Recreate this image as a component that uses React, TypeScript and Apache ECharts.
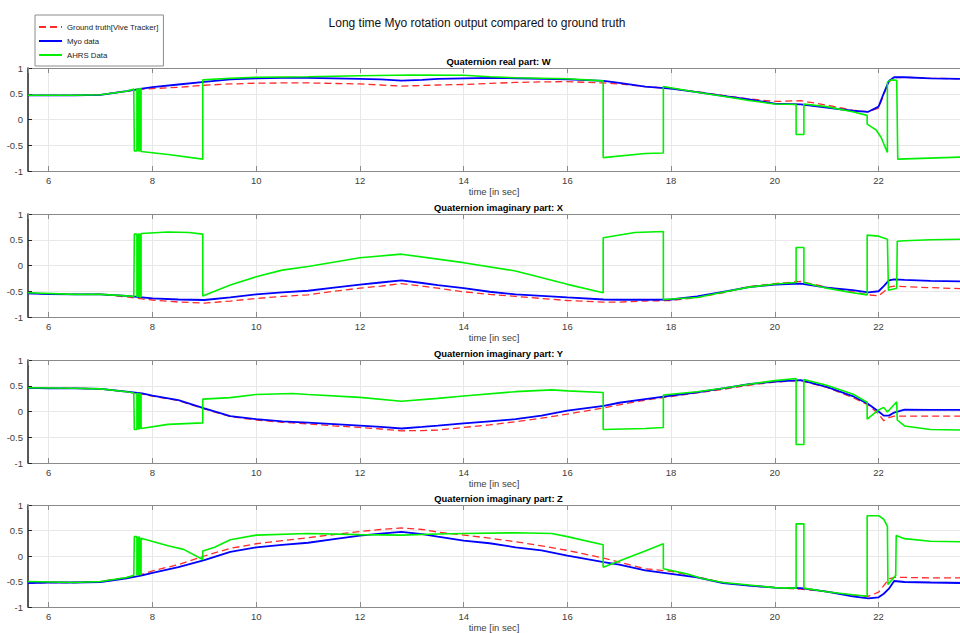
import React, { useEffect, useRef } from 'react';
import * as echarts from 'echarts';

// ---- data ----
const mainTitle = 'Long time Myo rotation output compared to ground truth';
const subTitles = [
  'Quaternion real part: W',
  'Quaternion imaginary part: X',
  'Quaternion imaginary part: Y',
  'Quaternion imaginary part: Z',
];
const xName = 'time [in sec]';
const seriesNames = ['Ground truth[Vive Tracker]', 'Myo data', 'AHRS Data'];

const T = [5.6, 6, 6.5, 7, 7.5, 7.8, 8, 8.5, 9, 9.5, 10, 10.5, 11, 11.5, 12, 12.4, 12.8, 13.2, 13.5, 14, 14.5, 15, 15.5, 16, 16.7, 17, 17.5, 18, 18.5, 19, 19.5, 20, 20.5, 21, 21.5, 21.8, 22, 22.1, 22.2, 22.3, 22.5, 23, 23.6];

const truthW = [0.47, 0.47, 0.47, 0.48, 0.55, 0.59, 0.6, 0.625, 0.665, 0.69, 0.705, 0.71, 0.71, 0.7, 0.69, 0.67, 0.65, 0.66, 0.67, 0.68, 0.7, 0.72, 0.73, 0.735, 0.71, 0.69, 0.64, 0.6, 0.54, 0.47, 0.4, 0.35, 0.365, 0.28, 0.18, 0.15, 0.22, 0.48, 0.73, 0.81, 0.82, 0.8, 0.79];
const myoW = [0.47, 0.47, 0.47, 0.48, 0.55, 0.6, 0.63, 0.68, 0.73, 0.78, 0.8, 0.81, 0.81, 0.8, 0.79, 0.78, 0.755, 0.77, 0.79, 0.8, 0.81, 0.8, 0.79, 0.78, 0.75, 0.71, 0.64, 0.6, 0.53, 0.46, 0.39, 0.31, 0.295, 0.23, 0.17, 0.15, 0.25, 0.51, 0.75, 0.82, 0.82, 0.8, 0.79];

const truthX = [-0.54, -0.555, -0.56, -0.56, -0.61, -0.65, -0.67, -0.71, -0.73, -0.69, -0.64, -0.6, -0.57, -0.5, -0.44, -0.4, -0.35, -0.4, -0.44, -0.51, -0.56, -0.6, -0.64, -0.68, -0.71, -0.71, -0.69, -0.68, -0.62, -0.53, -0.41, -0.35, -0.31, -0.42, -0.51, -0.57, -0.59, -0.51, -0.42, -0.4, -0.41, -0.43, -0.45];
const myoX = [-0.54, -0.555, -0.56, -0.56, -0.59, -0.62, -0.64, -0.66, -0.67, -0.62, -0.56, -0.52, -0.49, -0.43, -0.37, -0.33, -0.29, -0.34, -0.38, -0.44, -0.51, -0.56, -0.59, -0.62, -0.66, -0.665, -0.665, -0.66, -0.6, -0.51, -0.42, -0.37, -0.35, -0.43, -0.48, -0.52, -0.5, -0.4, -0.29, -0.27, -0.28, -0.3, -0.31];

const truthY = [0.46, 0.45, 0.45, 0.44, 0.38, 0.34, 0.3, 0.21, 0.05, -0.1, -0.165, -0.21, -0.24, -0.28, -0.31, -0.34, -0.375, -0.37, -0.36, -0.31, -0.26, -0.2, -0.13, -0.05, 0.07, 0.13, 0.22, 0.29, 0.36, 0.43, 0.51, 0.57, 0.6, 0.47, 0.27, 0.13, -0.05, -0.18, -0.12, -0.09, -0.09, -0.09, -0.09];
const myoY = [0.46, 0.45, 0.45, 0.44, 0.385, 0.35, 0.31, 0.22, 0.06, -0.09, -0.15, -0.19, -0.215, -0.245, -0.275, -0.3, -0.33, -0.3, -0.275, -0.23, -0.19, -0.15, -0.08, 0.016, 0.11, 0.17, 0.24, 0.31, 0.37, 0.45, 0.53, 0.58, 0.61, 0.48, 0.3, 0.146, 0.0, -0.08, -0.08, -0.02, 0.035, 0.03, 0.03];

const truthZ = [-0.53, -0.52, -0.52, -0.5, -0.42, -0.36, -0.29, -0.17, 0.0, 0.15, 0.24, 0.3, 0.36, 0.42, 0.48, 0.52, 0.55, 0.52, 0.47, 0.41, 0.35, 0.28, 0.2, 0.11, -0.04, -0.12, -0.25, -0.3, -0.41, -0.52, -0.58, -0.62, -0.65, -0.7, -0.77, -0.79, -0.71, -0.58, -0.45, -0.42, -0.42, -0.43, -0.43];
const myoZ = [-0.53, -0.52, -0.52, -0.51, -0.44, -0.38, -0.33, -0.22, -0.08, 0.08, 0.17, 0.22, 0.26, 0.33, 0.4, 0.44, 0.475, 0.43, 0.38, 0.3, 0.25, 0.17, 0.11, 0.006, -0.12, -0.17, -0.28, -0.35, -0.42, -0.53, -0.58, -0.62, -0.63, -0.7, -0.79, -0.83, -0.81, -0.74, -0.64, -0.49, -0.51, -0.52, -0.53];

const ahrsTW = [5.6, 6.5, 7, 7.5, 7.64, 7.65, 7.7, 7.7, 7.73, 7.73, 7.75, 7.75, 7.78, 7.78, 8.3, 8.97, 8.97, 9.5, 10, 11, 12, 13, 14, 14.5, 15, 16, 16.69, 16.69, 17.5, 17.85, 17.85, 18.5, 19, 19.5, 20, 20.41, 20.41, 20.56, 20.56, 21, 21.5, 21.78, 21.78, 21.95, 22.05, 22.17, 22.17, 22.25, 22.35, 22.37, 23.6];
const ahrsW = [0.47, 0.47, 0.48, 0.55, 0.59, -0.61, -0.61, 0.59, 0.59, -0.61, -0.61, 0.6, 0.6, -0.62, -0.68, -0.77, 0.77, 0.8, 0.82, 0.83, 0.85, 0.864, 0.86, 0.83, 0.81, 0.79, 0.75, -0.74, -0.66, -0.65, 0.64, 0.53, 0.45, 0.37, 0.3, 0.29, -0.29, -0.29, 0.3, 0.25, 0.15, 0.08, -0.09, -0.2, -0.35, -0.64, 0.73, 0.77, 0.76, -0.77, -0.73];

const ahrsTX = [5.6, 6.5, 7, 7.5, 7.64, 7.65, 7.7, 7.7, 7.73, 7.73, 7.75, 7.75, 7.78, 7.78, 8.3, 8.7, 8.97, 8.97, 9.5, 10, 10.5, 11, 12, 12.8, 14, 15, 16, 16.69, 16.69, 17.3, 17.85, 17.85, 18.5, 19, 19.5, 20, 20.41, 20.41, 20.56, 20.56, 21, 21.5, 21.78, 21.78, 22.0, 22.17, 22.19, 22.35, 22.36, 22.5, 23, 23.6];
const ahrsX = [-0.53, -0.56, -0.56, -0.59, -0.6, 0.61, 0.61, -0.6, -0.6, 0.61, 0.61, -0.61, -0.61, 0.62, 0.65, 0.64, 0.61, -0.59, -0.38, -0.22, -0.09, -0.02, 0.15, 0.22, 0.055, -0.107, -0.366, -0.53, 0.54, 0.64, 0.66, -0.66, -0.62, -0.52, -0.42, -0.36, -0.33, 0.35, 0.35, -0.33, -0.44, -0.53, -0.57, 0.59, 0.57, 0.51, -0.48, -0.44, 0.47, 0.48, 0.5, 0.51];

const ahrsTY = [5.6, 6.5, 7, 7.5, 7.64, 7.65, 7.7, 7.7, 7.73, 7.73, 7.75, 7.75, 7.78, 7.78, 8.3, 8.97, 8.97, 9.5, 10, 10.7, 11, 12, 12.8, 13.5, 14, 15, 15.7, 16, 16.69, 16.69, 17.5, 17.85, 17.85, 18.5, 19, 19.5, 20, 20.41, 20.41, 20.56, 20.56, 21, 21.5, 21.78, 21.78, 22.0, 22.1, 22.17, 22.35, 22.36, 22.5, 23, 23.6];
const ahrsY = [0.46, 0.45, 0.44, 0.385, 0.36, -0.35, -0.35, 0.35, 0.35, -0.34, -0.34, 0.34, 0.34, -0.33, -0.25, -0.22, 0.24, 0.27, 0.33, 0.35, 0.33, 0.275, 0.2, 0.255, 0.3, 0.385, 0.42, 0.4, 0.37, -0.35, -0.33, -0.31, 0.32, 0.385, 0.45, 0.53, 0.6, 0.64, -0.64, -0.64, 0.62, 0.51, 0.34, 0.18, -0.15, 0.03, 0.08, -0.01, 0.19, -0.165, -0.28, -0.35, -0.36];

const ahrsTZ = [5.6, 6.5, 7, 7.5, 7.64, 7.65, 7.7, 7.7, 7.73, 7.73, 7.75, 7.75, 7.78, 7.78, 8.3, 8.6, 8.97, 8.97, 9.2, 9.5, 10, 11, 12, 12.8, 13.5, 14, 15, 15.7, 16, 16.69, 16.69, 17, 17.5, 17.85, 17.85, 18.3, 18.6, 19, 19.5, 20, 20.41, 20.41, 20.56, 20.56, 21, 21.5, 21.78, 21.78, 22.0, 22.1, 22.17, 22.18, 22.33, 22.34, 22.5, 23, 23.6];
const ahrsZ = [-0.5, -0.52, -0.5, -0.42, -0.38, 0.38, 0.38, -0.37, -0.37, 0.37, 0.37, -0.36, -0.36, 0.35, 0.2, 0.13, -0.07, 0.1, 0.17, 0.32, 0.41, 0.44, 0.42, 0.41, 0.43, 0.44, 0.455, 0.44, 0.38, 0.22, -0.22, -0.1, 0.1, 0.24, -0.25, -0.35, -0.44, -0.52, -0.57, -0.62, -0.63, 0.63, 0.63, -0.63, -0.7, -0.76, -0.79, 0.79, 0.79, 0.72, 0.58, -0.56, -0.38, 0.4, 0.34, 0.29, 0.28];

const truthSets = [truthW, truthX, truthY, truthZ];
const myoSets = [myoW, myoX, myoY, myoZ];
const ahrsTimes = [ahrsTW, ahrsTX, ahrsTY, ahrsTZ];
const ahrsSets = [ahrsW, ahrsX, ahrsY, ahrsZ];

// ---- layout ----
const FONT = '"Liberation Sans", Arial, Helvetica, sans-serif';
const GRID_LEFT = 28;
const GRID_WIDTH = 941;
const GRID_HEIGHT = 103;
const GRID_TOPS = [68, 214, 360, 505];
const X_MIN = 5.6;
const X_MAX = 23.57;

const zip = (xs: number[], ys: number[]) => xs.map((x, i) => [x, ys[i]]);

export default function App() {
  const ref = useRef<HTMLDivElement>(null);

  useEffect(() => {
    if (!ref.current) return;
    const chart = echarts.init(ref.current, null, { renderer: 'svg' });

    const grids = GRID_TOPS.map((top) => ({
      left: GRID_LEFT,
      top,
      width: GRID_WIDTH,
      height: GRID_HEIGHT,
      containLabel: false,
    }));

    const axisGray = '#8a8a8a';
    const gridLine = '#e8e8e8';
    const labelColor = '#404040';

    const bottomX = GRID_TOPS.map((_, i) => ({
      type: 'value',
      gridIndex: i,
      position: 'bottom',
      min: X_MIN,
      max: X_MAX,
      splitNumber: 9,
      minInterval: 2,
      maxInterval: 2,
      name: xName,
      nameLocation: 'middle',
      nameGap: 15,
      nameTextStyle: { fontSize: 9.5, color: labelColor, fontFamily: FONT },
      axisLine: { show: true, onZero: false, lineStyle: { color: axisGray, width: 1 } },
      axisTick: { show: true, inside: true, length: 5, lineStyle: { color: axisGray } },
      axisLabel: {
        showMinLabel: false,
        showMaxLabel: false,
        fontSize: 9.5,
        color: labelColor,
        margin: 4,
        fontFamily: FONT,
      },
      splitLine: { show: true, lineStyle: { color: gridLine, width: 1 } },
    }));

    const topX = GRID_TOPS.map((_, i) => ({
      type: 'value',
      gridIndex: i,
      position: 'top',
      min: X_MIN,
      max: X_MAX,
      splitNumber: 9,
      minInterval: 2,
      maxInterval: 2,
      axisLine: { show: true, onZero: false, lineStyle: { color: axisGray, width: 1 } },
      axisTick: { show: true, inside: true, length: 5, lineStyle: { color: axisGray } },
      axisLabel: { show: false },
      splitLine: { show: false },
    }));

    const yAxes = GRID_TOPS.map((_, i) => ({
      type: 'value',
      gridIndex: i,
      min: -1,
      max: 1,
      interval: 0.5,
      axisLine: { show: true, onZero: false, lineStyle: { color: '#262626', width: 1.5 } },
      axisTick: { show: true, inside: true, length: 4, lineStyle: { color: '#262626' } },
      axisLabel: { fontSize: 9.5, color: labelColor, margin: 5, fontFamily: FONT },
      splitLine: { show: true, lineStyle: { color: gridLine, width: 1 } },
    }));

    const series: any[] = [];
    for (let i = 0; i < 4; i++) {
      series.push({
        type: 'line',
        name: seriesNames[0],
        xAxisIndex: i,
        yAxisIndex: i,
        data: zip(T, truthSets[i]),
        symbol: 'none',
        showSymbol: false,
        smooth: false,
        z: 2,
        lineStyle: { color: '#ff2a2a', width: 1.3, type: [7, 4] },
        itemStyle: { color: '#ff2a2a' },
      });
      series.push({
        type: 'line',
        name: seriesNames[1],
        xAxisIndex: i,
        yAxisIndex: i,
        data: zip(T, myoSets[i]),
        symbol: 'none',
        showSymbol: false,
        smooth: false,
        z: 3,
        lineStyle: { color: '#0000ff', width: 1.8 },
        itemStyle: { color: '#0000ff' },
      });
      series.push({
        type: 'line',
        name: seriesNames[2],
        xAxisIndex: i,
        yAxisIndex: i,
        data: zip(ahrsTimes[i], ahrsSets[i]),
        symbol: 'none',
        showSymbol: false,
        smooth: false,
        z: 4,
        lineStyle: { color: '#00f000', width: 1.6 },
        itemStyle: { color: '#00f000' },
      });
    }

    const graphics: any[] = [
      {
        type: 'text',
        x: 477,
        y: 23,
        style: {
          text: mainTitle,
          fontSize: 12,
          fontFamily: FONT,
          fill: '#111',
          align: 'center',
          verticalAlign: 'middle',
        },
      },
      ...GRID_TOPS.map((top, i) => ({
        type: 'text',
        x: GRID_LEFT + GRID_WIDTH / 2,
        y: top - 7,
        style: {
          text: subTitles[i],
          fontSize: 9.4,
          fontWeight: 'bold',
          fontFamily: FONT,
          fill: '#000',
          align: 'center',
          verticalAlign: 'middle',
        },
      })),
    ];

    const option: any = {
      animation: false,
      backgroundColor: '#ffffff',
      grid: grids,
      xAxis: [...bottomX, ...topX],
      yAxis: yAxes,
      legend: {
        show: true,
        orient: 'vertical',
        left: 35,
        top: 15,
        itemWidth: 23,
        itemHeight: 10,
        itemGap: 6,
        padding: [8, 5, 7, 3],
        borderColor: '#8c8c8c',
        borderWidth: 1,
        backgroundColor: '#ffffff',
        selectedMode: false,
        itemStyle: { opacity: 0 },
        textStyle: { fontSize: 7.8, color: '#222', fontFamily: FONT },
        data: seriesNames,
      },
      graphic: graphics,
      series,
    };

    chart.setOption(option);
    return () => chart.dispose();
  }, []);

  return (
    <div
      ref={ref}
      style={{ position: 'fixed', left: 0, top: 0, width: 960, height: 633, background: '#fff' }}
    />
  );
}
